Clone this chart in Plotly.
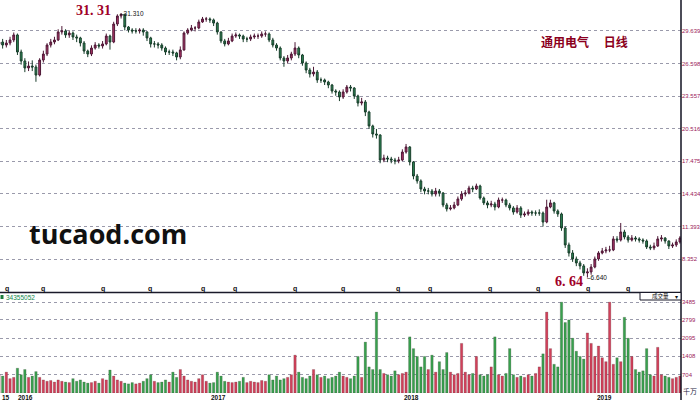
import plotly.graph_objects as go
import pandas as pd

# ---------------- data (weekly candles) ----------------
week_start = "2015-11-30"

opens = [
    28.40, 28.61, 28.33, 28.52, 28.80, 29.27, 27.68, 26.84, 26.19, 26.37,
    26.28, 25.53, 26.93, 27.49, 28.33, 28.61, 28.80, 29.55, 29.64, 29.27,
    29.45, 29.08, 28.99, 28.52, 27.77, 27.49, 28.05, 28.33, 28.24, 28.43,
    29.17, 28.61, 30.29, 31.04, 31.20, 30.01, 29.73, 29.64, 29.64, 29.73,
    29.55, 28.99, 28.43, 28.43, 28.33, 28.05, 27.68, 27.68, 27.59, 27.21,
    27.87, 29.45, 29.73, 29.92, 29.92, 30.48, 30.76, 30.76, 30.67, 30.38,
    29.55, 28.71, 28.43, 28.71, 29.17, 29.27, 29.17, 28.89, 28.89, 29.08,
    29.17, 29.17, 29.36, 29.36, 28.80, 28.33, 28.05, 27.12, 26.84, 27.12,
    27.49, 28.05, 27.40, 26.65, 26.00, 25.63, 25.81, 25.07, 25.07, 24.88,
    24.60, 24.04, 23.95, 23.48, 23.95, 24.41, 24.32, 23.58, 22.92, 23.02,
    22.08, 20.78, 20.03, 19.94, 17.60, 17.79, 17.70, 17.60, 17.51, 17.60,
    18.35, 18.82, 17.42, 16.11, 15.65, 14.90, 14.71, 14.71, 14.43, 14.71,
    14.53, 13.41, 13.04, 13.13, 13.41, 13.97, 14.43, 14.53, 14.99, 14.90,
    15.18, 14.06, 13.60, 13.41, 13.50, 13.22, 13.87, 13.87, 13.41, 13.13,
    12.75, 13.13, 12.47, 12.57, 12.75, 12.66, 12.66, 12.66, 11.82, 13.22,
    13.60, 12.85, 12.57, 11.26, 9.68, 8.93, 8.37, 8.00, 7.72, 7.07,
    7.16, 7.62, 8.37, 8.93, 9.12, 9.21, 9.21, 10.24, 10.14, 10.89,
    10.42, 10.14, 10.33, 10.24, 10.14, 10.05, 9.49, 9.40, 9.58, 10.24,
    10.33, 10.05, 9.58, 9.68, 9.96,
]

highs = [
    29.0, 28.9, 28.8, 29.1, 29.5, 29.4, 27.9, 27.1, 26.8, 26.9,
    26.5, 27.1, 27.8, 28.5, 28.9, 29.1, 29.8, 30.1, 29.8, 29.7,
    29.6, 29.3, 29.1, 28.7, 27.9, 28.3, 28.6, 28.5, 28.7, 29.4,
    29.3, 30.5, 31.2, 31.31, 31.2, 30.1, 29.9, 29.9, 29.9, 29.9,
    29.6, 29.1, 28.7, 28.6, 28.5, 28.2, 27.9, 27.9, 27.7, 28.2,
    29.6, 29.9, 30.2, 30.1, 30.7, 30.95, 30.95, 30.9, 30.8, 30.5,
    29.6, 28.9, 29.0, 29.4, 29.5, 29.4, 29.3, 29.1, 29.3, 29.4,
    29.4, 29.6, 29.6, 29.5, 29.0, 28.5, 28.2, 27.3, 27.4, 27.7,
    28.6, 28.2, 27.5, 26.8, 26.2, 26.3, 26.0, 25.3, 25.2, 25.0,
    24.7, 24.2, 24.1, 24.2, 24.6, 24.6, 24.4, 23.7, 23.4, 23.2,
    22.2, 20.9, 20.5, 20.0, 18.1, 18.0, 17.9, 17.8, 17.9, 18.6,
    19.1, 18.9, 17.5, 16.3, 15.8, 15.1, 15.0, 14.9, 15.0, 14.9,
    14.6, 13.6, 13.4, 13.7, 14.2, 14.7, 14.8, 15.2, 15.2, 15.4,
    15.3, 14.2, 13.8, 13.8, 13.7, 14.1, 14.1, 14.0, 13.6, 13.3,
    13.4, 13.3, 12.8, 13.0, 12.9, 12.9, 13.0, 12.8, 13.9, 13.9,
    13.7, 13.0, 12.7, 11.4, 9.9, 9.2, 8.6, 8.2, 7.9, 7.5,
    7.9, 8.6, 9.1, 9.4, 9.5, 9.6, 10.5, 10.5, 11.73, 11.1,
    10.6, 10.6, 10.5, 10.4, 10.3, 10.2, 9.7, 9.9, 10.5, 10.6,
    10.4, 10.1, 9.9, 10.2, 10.5,
]

lows = [
    28.1, 28.0, 28.1, 28.3, 28.6, 27.4, 26.5, 25.8, 25.9, 25.9,
    24.9, 25.4, 26.7, 27.3, 28.1, 28.4, 28.7, 29.3, 29.0, 29.0,
    28.8, 28.6, 28.2, 27.5, 27.2, 27.3, 27.9, 28.0, 28.0, 28.3,
    27.9, 28.5, 30.1, 30.8, 29.7, 29.5, 29.4, 29.4, 29.4, 29.2,
    28.7, 28.1, 28.1, 28.0, 27.8, 27.4, 27.4, 27.3, 26.9, 27.0,
    27.8, 29.3, 29.6, 29.6, 29.8, 30.4, 30.5, 30.4, 30.1, 29.3,
    28.5, 28.2, 28.3, 28.6, 29.0, 28.9, 28.6, 28.6, 28.7, 28.9,
    28.9, 29.0, 29.1, 28.6, 28.1, 27.8, 26.9, 26.3, 26.6, 26.9,
    27.3, 27.1, 26.4, 25.7, 25.3, 25.4, 24.8, 24.8, 24.6, 24.3,
    23.8, 23.6, 23.1, 23.3, 23.8, 24.0, 23.3, 22.6, 22.7, 21.7,
    20.5, 19.7, 19.6, 17.3, 17.4, 17.4, 17.3, 17.2, 17.3, 17.5,
    18.2, 17.1, 15.8, 15.4, 14.6, 14.4, 14.4, 14.2, 14.2, 14.2,
    13.2, 12.8, 12.9, 13.0, 13.3, 13.8, 14.2, 14.4, 14.6, 14.8,
    13.9, 13.4, 13.1, 13.2, 12.9, 13.1, 13.6, 13.2, 12.9, 12.5,
    12.6, 12.2, 12.3, 12.4, 12.4, 12.4, 12.4, 11.4, 11.7, 13.1,
    12.6, 12.3, 11.0, 9.4, 8.6, 8.1, 7.7, 7.4, 6.8, 6.64,
    6.9, 7.5, 8.2, 8.8, 8.9, 9.0, 9.1, 9.9, 10.0, 10.2,
    9.9, 10.0, 10.0, 9.9, 9.8, 9.3, 9.2, 9.2, 9.5, 10.0,
    9.8, 9.3, 9.4, 9.5, 9.8,
]

closes = [
    28.61, 28.33, 28.52, 28.80, 29.27, 27.68, 26.84, 26.19, 26.37, 26.28,
    25.53, 26.93, 27.49, 28.33, 28.61, 28.80, 29.55, 29.64, 29.27, 29.45,
    29.08, 28.99, 28.52, 27.77, 27.49, 28.05, 28.33, 28.24, 28.43, 29.17,
    28.61, 30.29, 31.04, 31.20, 30.01, 29.73, 29.64, 29.64, 29.73, 29.55,
    28.99, 28.43, 28.43, 28.33, 28.05, 27.68, 27.68, 27.59, 27.21, 27.87,
    29.45, 29.73, 29.92, 29.92, 30.48, 30.76, 30.76, 30.67, 30.38, 29.55,
    28.71, 28.43, 28.71, 29.17, 29.27, 29.17, 28.89, 28.89, 29.08, 29.17,
    29.17, 29.36, 29.36, 28.80, 28.33, 28.05, 27.12, 26.84, 27.12, 27.49,
    28.05, 27.40, 26.65, 26.00, 25.63, 25.81, 25.07, 25.07, 24.88, 24.60,
    24.04, 23.95, 23.48, 23.95, 24.41, 24.32, 23.58, 22.92, 23.02, 22.08,
    20.78, 20.03, 19.94, 17.60, 17.79, 17.70, 17.60, 17.51, 17.60, 18.35,
    18.82, 17.42, 16.11, 15.65, 14.90, 14.71, 14.71, 14.43, 14.71, 14.53,
    13.41, 13.04, 13.13, 13.41, 13.97, 14.43, 14.53, 14.99, 14.90, 15.18,
    14.06, 13.60, 13.41, 13.50, 13.22, 13.87, 13.87, 13.41, 13.13, 12.75,
    13.13, 12.47, 12.57, 12.75, 12.66, 12.66, 12.66, 11.82, 13.22, 13.60,
    12.85, 12.57, 11.26, 9.68, 8.93, 8.37, 8.00, 7.72, 7.07, 7.16,
    7.62, 8.37, 8.93, 9.12, 9.21, 9.21, 10.24, 10.14, 10.89, 10.42,
    10.14, 10.33, 10.24, 10.14, 10.05, 9.49, 9.40, 9.58, 10.24, 10.33,
    10.05, 9.58, 9.68, 9.96, 10.33,
]

volumes = [
    700, 650, 800, 550, 600, 950, 700, 900, 600, 650,
    820, 600, 500, 450, 480, 420, 500, 450, 420, 400,
    550, 450, 500, 420, 380, 400, 450, 380, 550, 500,
    880, 650, 500, 450, 380, 350, 400, 350, 380, 450,
    550, 700, 450, 400, 420, 500, 420, 800, 600, 900,
    650, 500, 450, 420, 550, 700, 450, 380, 400, 800,
    650, 450, 420, 400, 420, 450, 600, 400, 450, 420,
    400, 480, 450, 700, 500, 650, 500, 550, 600, 700,
    1450, 800, 600, 550, 650, 900, 700, 600, 650, 550,
    600, 650, 800, 650, 600, 550, 650, 1400, 600, 1950,
    1000, 900, 3100, 900, 750, 700, 650, 850, 700, 750,
    800, 2150, 1700, 1400, 1000, 1400, 900, 1450, 800, 1200,
    900, 1550, 800, 700, 750, 1900, 800, 700, 750, 1400,
    700, 650, 700, 1000, 2150, 700, 650, 750, 1700, 700,
    600, 650, 600, 700, 650, 750, 1000, 1500, 3100, 1700,
    1100, 1000, 3480, 2700, 2800, 2100, 1600, 1400, 1300, 2300,
    1900, 1400, 1800, 1350, 1200, 3480, 1100, 1350, 1200, 2900,
    2100, 1400, 900, 800, 850, 1700, 700, 650, 1750, 700,
    650, 600, 550, 600, 650,
]

price_ticks = [8.352, 11.393, 14.434, 17.475, 20.516, 23.557, 26.598, 29.639]
vol_ticks = [704, 1408, 2095, 2799, 3485]
vol_tick_text = ["704", "1408", "2095", "2799", "3485"]
year_labels = ["15", "2016", "2017", "2018", "2019"]
year_dates = ["2015-12-02", "2016-01-01", "2017-01-01", "2018-01-01", "2019-01-01"]
event_dates = ["2015-12-15", "2016-02-21", "2016-06-14", "2016-09-11", "2016-12-20",
               "2017-02-18", "2017-06-12", "2017-09-11", "2017-12-24", "2018-02-22",
               "2018-06-15", "2018-09-14", "2018-12-18", "2019-03-03"]
peak_date, peak_value = "2016-07-18", 31.31
low_date, low_value = "2018-12-17", 6.64
last_volume_text = "34355052"
title_text = "通用电气 　日线"
watermark = "tucaod.com"

n = len(closes)
assert len(opens) == n and len(highs) == n and len(lows) == n and len(volumes) == n, (
    len(opens), len(highs), len(lows), len(closes), len(volumes))
dates = pd.date_range(week_start, periods=n, freq="7D")

# ---------------- figure ----------------
UP_LINE, UP_FILL = "#4e1836", "#b03468"
DN_LINE, DN_FILL = "#183d2a", "#2e8b57"
VOL_UP, VOL_DN = "#d0405a", "#38a04e"

fig = go.Figure()
fig.add_trace(go.Candlestick(
    x=dates, open=opens, high=highs, low=lows, close=closes,
    increasing=dict(line=dict(color=UP_LINE, width=1), fillcolor=UP_FILL),
    decreasing=dict(line=dict(color=DN_LINE, width=1), fillcolor=DN_FILL),
    whiskerwidth=0, xaxis="x", yaxis="y", showlegend=False, hoverinfo="skip",
))
bar_colors = [VOL_UP if c >= o else VOL_DN for o, c in zip(opens, closes)]
fig.add_trace(go.Bar(
    x=dates, y=volumes,
    marker=dict(color=bar_colors, line=dict(color="rgba(60,45,45,0.4)", width=0.5)),
    width=4.6 * 86400000, xaxis="x2", yaxis="y2", showlegend=False, hoverinfo="skip",
))

H = 393.0  # plot-area height in px
def py(pix):
    return 1 - pix / H

grid = dict(showgrid=True, gridcolor="#9a9aab", griddash="dot", gridwidth=1)
tick_font = dict(family="Liberation Sans", size=6, color="#9b1b5a")

fig.update_layout(
    width=700, height=400,
    margin=dict(l=0, r=19, t=0, b=7, autoexpand=False),
    paper_bgcolor="white", plot_bgcolor="white",
    showlegend=False,
    xaxis=dict(domain=[0, 1], type="date", range=["2015-12-02", "2019-06-12"], anchor="y",
               showticklabels=False, showgrid=False, zeroline=False, showline=False,
               automargin=False, rangeslider=dict(visible=False)),
    xaxis2=dict(domain=[0, 1], type="date", matches="x", anchor="y2", automargin=False,
                showticklabels=False, showgrid=False, zeroline=False, showline=False),
    yaxis=dict(domain=[py(292), 1], range=[5.29, 32.53], side="right", anchor="x",
               tickvals=price_ticks, ticktext=[f"{v:.3f}" for v in price_ticks],
               tickfont=tick_font, ticks="", zeroline=False, showline=False,
               automargin=False, **grid),
    yaxis2=dict(domain=[0, py(296)], range=[0, 3715], side="right", anchor="x2",
                tickvals=vol_ticks, ticktext=vol_tick_text,
                tickfont=tick_font, ticks="", zeroline=False, showline=False,
                automargin=False, **grid),
)

shapes = [
    dict(type="line", xref="paper", yref="paper", x0=0, x1=1, y0=py(292.5), y1=py(292.5),
         line=dict(color="#1a1a2a", width=1.3)),
    dict(type="line", xref="paper", yref="paper", x0=1, x1=1, y0=-0.02, y1=1,
         line=dict(color="#101020", width=1.5)),
    dict(type="rect", xref="paper", yref="paper", x0=640 / 681, x1=1, y0=py(300), y1=py(292.5),
         fillcolor="white", line=dict(color="#1a1a2a", width=1)),
    dict(type="rect", xref="paper", yref="paper", x0=0.5 / 681, x1=3.5 / 681, y0=py(299), y1=py(295),
         fillcolor="#1a7a3a", line=dict(width=0)),
]
fig.update_layout(shapes=shapes)

ann = []
small = dict(family="Liberation Sans", size=6.5, color="#111111")
red_big = dict(family="Liberation Serif", size=14, color="#a00028", weight="bold")
ann.append(dict(x=peak_date, y=peak_value, xref="x", yref="y", text="31. 31", showarrow=False,
                xanchor="right", yanchor="middle", xshift=-8, yshift=3, font=red_big))
ann.append(dict(x=peak_date, y=peak_value, xref="x", yref="y", text="–31.310", showarrow=False,
                xanchor="left", yanchor="middle", xshift=-3, yshift=0, font=small))
ann.append(dict(x=low_date, y=low_value, xref="x", yref="y", text="6. 64", showarrow=False,
                xanchor="right", yanchor="middle", xshift=-2, yshift=-4, font=red_big))
ann.append(dict(x=low_date, y=low_value, xref="x", yref="y", text="–6.640", showarrow=False,
                xanchor="left", yanchor="middle", xshift=-2, yshift=0, font=small))
ann.append(dict(x=584 / 681, y=py(42), xref="paper", yref="paper", text=title_text, showarrow=False,
                xanchor="center", yanchor="middle",
                font=dict(family="Noto Sans CJK SC", size=12, color="#8b0020", weight="bold")))
ann.append(dict(x=108 / 681, y=py(233), xref="paper", yref="paper", text=watermark, showarrow=False,
                xanchor="center", yanchor="middle",
                font=dict(family="Open Sans", size=27, color="#111111", weight="bold")))
ann.append(dict(x=4 / 681, y=py(297), xref="paper", yref="paper", text=last_volume_text, showarrow=False,
                xanchor="left", yanchor="middle",
                font=dict(family="Liberation Sans", size=6.5, color="#11884a")))
ann.append(dict(x=660 / 681, y=py(296.3), xref="paper", yref="paper", text="成交量", showarrow=False,
                xanchor="center", yanchor="middle",
                font=dict(family="Noto Sans CJK SC", size=5.5, color="#111111")))
ann.append(dict(x=676 / 681, y=py(296.3), xref="paper", yref="paper", text="▾", showarrow=False,
                xanchor="center", yanchor="middle", font=dict(family="DejaVu Sans", size=6, color="#111111")))
ann.append(dict(x=1, y=py(391), xref="paper", yref="paper", text="千万", showarrow=False,
                xanchor="left", yanchor="middle", xshift=0,
                font=dict(family="Noto Sans CJK SC", size=7, color="#1a1a40")))
for d in event_dates:
    ann.append(dict(x=d, y=py(288.5), xref="x", yref="paper", text="q", showarrow=False,
                    xanchor="center", yanchor="middle",
                    font=dict(family="Liberation Sans", size=7, color="#111111", weight="bold")))
for lbl, d in zip(year_labels, year_dates):
    ann.append(dict(x=d, y=0, xref="x", yref="paper", text=lbl, showarrow=False,
                    xanchor="left", yanchor="top", yshift=1,
                    font=dict(family="Liberation Sans", size=6.5, color="#111111", weight="bold")))
fig.update_layout(annotations=ann)

fig.write_html("out.html",
               config={"displayModeBar": False},
               post_script="document.body.style.margin='0';document.body.style.overflow='hidden';")
